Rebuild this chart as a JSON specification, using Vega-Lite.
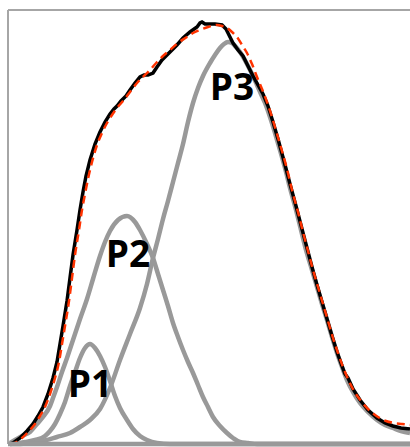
{
  "$schema": "https://vega.github.io/schema/vega-lite/v6.json",
  "width": 402,
  "height": 434,
  "autosize": {"type": "none"},
  "padding": {"left": 8, "top": 10, "right": 0, "bottom": 3},
  "config": {"view": {"stroke": null}},
  "datasets": {
    "p1": [
      {"x": 10, "y": 0}, {"x": 25, "y": 2}, {"x": 35, "y": 4}, {"x": 45, "y": 8}, {"x": 50, "y": 13},
      {"x": 55, "y": 20}, {"x": 60, "y": 30}, {"x": 65, "y": 42}, {"x": 70, "y": 58}, {"x": 75, "y": 72},
      {"x": 80, "y": 86}, {"x": 85, "y": 96}, {"x": 90, "y": 100}, {"x": 95, "y": 96}, {"x": 100, "y": 88},
      {"x": 105, "y": 77}, {"x": 110, "y": 63}, {"x": 115, "y": 48}, {"x": 120, "y": 36}, {"x": 127, "y": 24},
      {"x": 133, "y": 15}, {"x": 140, "y": 8}, {"x": 147, "y": 4}, {"x": 157, "y": 1}, {"x": 170, "y": 0},
      {"x": 410, "y": 0}
    ],
    "p2": [
      {"x": 10, "y": 1}, {"x": 15, "y": 4}, {"x": 22, "y": 8}, {"x": 30, "y": 12}, {"x": 37, "y": 20},
      {"x": 43, "y": 27}, {"x": 50, "y": 38}, {"x": 53, "y": 46}, {"x": 57, "y": 57}, {"x": 62, "y": 72},
      {"x": 67, "y": 86}, {"x": 73, "y": 104}, {"x": 80, "y": 125}, {"x": 87, "y": 145}, {"x": 93, "y": 165},
      {"x": 100, "y": 188}, {"x": 105, "y": 202}, {"x": 110, "y": 213}, {"x": 118, "y": 224}, {"x": 127, "y": 228},
      {"x": 135, "y": 222}, {"x": 140, "y": 214}, {"x": 147, "y": 200}, {"x": 153, "y": 186}, {"x": 158, "y": 170},
      {"x": 163, "y": 154}, {"x": 168, "y": 138}, {"x": 173, "y": 121}, {"x": 178, "y": 107}, {"x": 183, "y": 94},
      {"x": 188, "y": 82}, {"x": 193, "y": 71}, {"x": 198, "y": 59}, {"x": 203, "y": 47}, {"x": 208, "y": 37},
      {"x": 213, "y": 27}, {"x": 220, "y": 18}, {"x": 227, "y": 11}, {"x": 233, "y": 6}, {"x": 240, "y": 2},
      {"x": 248, "y": 1}, {"x": 257, "y": 0}, {"x": 410, "y": 0}
    ],
    "p3": [
      {"x": 10, "y": 0}, {"x": 20, "y": 0}, {"x": 30, "y": 1}, {"x": 43, "y": 3}, {"x": 57, "y": 7},
      {"x": 70, "y": 11}, {"x": 80, "y": 17}, {"x": 90, "y": 24}, {"x": 100, "y": 35}, {"x": 110, "y": 56},
      {"x": 120, "y": 84}, {"x": 130, "y": 110}, {"x": 140, "y": 136}, {"x": 147, "y": 160}, {"x": 153, "y": 186},
      {"x": 158, "y": 205}, {"x": 163, "y": 225}, {"x": 168, "y": 243}, {"x": 173, "y": 262}, {"x": 178, "y": 281},
      {"x": 183, "y": 300}, {"x": 188, "y": 322}, {"x": 193, "y": 341}, {"x": 198, "y": 356}, {"x": 203, "y": 368},
      {"x": 210, "y": 381}, {"x": 215, "y": 389}, {"x": 220, "y": 396}, {"x": 224, "y": 400}, {"x": 228, "y": 402},
      {"x": 232, "y": 401}, {"x": 236, "y": 397}, {"x": 240, "y": 392}, {"x": 247, "y": 380}, {"x": 252, "y": 370},
      {"x": 257, "y": 359}, {"x": 261, "y": 350}, {"x": 265, "y": 341}, {"x": 270, "y": 327}, {"x": 275, "y": 311},
      {"x": 280, "y": 294}, {"x": 285, "y": 276}, {"x": 290, "y": 256}, {"x": 296, "y": 234}, {"x": 301, "y": 214},
      {"x": 306, "y": 194}, {"x": 312, "y": 174}, {"x": 317, "y": 157}, {"x": 322, "y": 140}, {"x": 327, "y": 124},
      {"x": 332, "y": 107}, {"x": 337, "y": 91}, {"x": 342, "y": 77}, {"x": 347, "y": 64}, {"x": 353, "y": 52},
      {"x": 360, "y": 41}, {"x": 368, "y": 32}, {"x": 377, "y": 24}, {"x": 385, "y": 19}, {"x": 393, "y": 16},
      {"x": 401, "y": 13}, {"x": 410, "y": 11}
    ],
    "measured": [
      {"x": 10, "y": 0}, {"x": 13, "y": 1}, {"x": 20, "y": 6}, {"x": 27, "y": 13}, {"x": 33, "y": 20},
      {"x": 38, "y": 28}, {"x": 43, "y": 37}, {"x": 48, "y": 50}, {"x": 53, "y": 66}, {"x": 57, "y": 82},
      {"x": 60, "y": 100}, {"x": 63, "y": 118}, {"x": 67, "y": 143}, {"x": 70, "y": 166}, {"x": 73, "y": 189},
      {"x": 77, "y": 214}, {"x": 80, "y": 234}, {"x": 83, "y": 252}, {"x": 86, "y": 268}, {"x": 90, "y": 284},
      {"x": 95, "y": 300}, {"x": 100, "y": 312}, {"x": 105, "y": 322}, {"x": 110, "y": 330}, {"x": 114, "y": 335},
      {"x": 117, "y": 338}, {"x": 121, "y": 343}, {"x": 126, "y": 348}, {"x": 130, "y": 354}, {"x": 135, "y": 361},
      {"x": 140, "y": 367}, {"x": 144, "y": 369}, {"x": 148, "y": 369}, {"x": 153, "y": 371}, {"x": 157, "y": 377},
      {"x": 162, "y": 384}, {"x": 170, "y": 392}, {"x": 177, "y": 399}, {"x": 183, "y": 406}, {"x": 190, "y": 412},
      {"x": 197, "y": 417}, {"x": 200, "y": 421}, {"x": 202, "y": 422}, {"x": 205, "y": 420}, {"x": 210, "y": 420},
      {"x": 215, "y": 420}, {"x": 222, "y": 419}, {"x": 226, "y": 415}, {"x": 228, "y": 411}, {"x": 233, "y": 401},
      {"x": 238, "y": 394}, {"x": 243, "y": 388}, {"x": 248, "y": 378}, {"x": 253, "y": 368}, {"x": 258, "y": 359},
      {"x": 263, "y": 350}, {"x": 268, "y": 338}, {"x": 273, "y": 322}, {"x": 278, "y": 305}, {"x": 284, "y": 283},
      {"x": 290, "y": 260}, {"x": 296, "y": 238}, {"x": 302, "y": 215}, {"x": 307, "y": 196}, {"x": 312, "y": 177},
      {"x": 317, "y": 159}, {"x": 322, "y": 142}, {"x": 327, "y": 125}, {"x": 332, "y": 108}, {"x": 337, "y": 92},
      {"x": 342, "y": 78}, {"x": 345, "y": 70}, {"x": 348, "y": 66}, {"x": 353, "y": 55}, {"x": 360, "y": 44},
      {"x": 368, "y": 34}, {"x": 377, "y": 26}, {"x": 385, "y": 21}, {"x": 393, "y": 18}, {"x": 401, "y": 16},
      {"x": 410, "y": 15}
    ],
    "fit": [
      {"x": 10, "y": 0}, {"x": 15, "y": 1}, {"x": 22, "y": 6}, {"x": 29, "y": 13}, {"x": 35, "y": 20},
      {"x": 40, "y": 28}, {"x": 45, "y": 37}, {"x": 50, "y": 50}, {"x": 55, "y": 66}, {"x": 59, "y": 82},
      {"x": 62, "y": 100}, {"x": 65, "y": 118}, {"x": 69, "y": 143}, {"x": 72, "y": 166}, {"x": 75, "y": 189},
      {"x": 79, "y": 214}, {"x": 82, "y": 234}, {"x": 85, "y": 250}, {"x": 88, "y": 265}, {"x": 92, "y": 282},
      {"x": 97, "y": 299}, {"x": 102, "y": 311}, {"x": 107, "y": 321}, {"x": 112, "y": 329}, {"x": 117, "y": 336},
      {"x": 123, "y": 343}, {"x": 130, "y": 352}, {"x": 137, "y": 361}, {"x": 143, "y": 367}, {"x": 150, "y": 374},
      {"x": 157, "y": 382}, {"x": 163, "y": 388}, {"x": 170, "y": 394}, {"x": 178, "y": 401}, {"x": 187, "y": 407},
      {"x": 193, "y": 411}, {"x": 200, "y": 414}, {"x": 208, "y": 417}, {"x": 217, "y": 419}, {"x": 222, "y": 418},
      {"x": 227, "y": 416}, {"x": 232, "y": 412}, {"x": 237, "y": 407}, {"x": 242, "y": 399}, {"x": 247, "y": 391},
      {"x": 252, "y": 380}, {"x": 257, "y": 367}, {"x": 262, "y": 355}, {"x": 267, "y": 342}, {"x": 272, "y": 327},
      {"x": 277, "y": 310}, {"x": 282, "y": 293}, {"x": 287, "y": 275}, {"x": 292, "y": 254}, {"x": 298, "y": 232},
      {"x": 303, "y": 212}, {"x": 308, "y": 193}, {"x": 313, "y": 174}, {"x": 318, "y": 157}, {"x": 323, "y": 140},
      {"x": 328, "y": 123}, {"x": 333, "y": 106}, {"x": 338, "y": 91}, {"x": 343, "y": 77}, {"x": 348, "y": 65},
      {"x": 354, "y": 53}, {"x": 361, "y": 43}, {"x": 369, "y": 34}, {"x": 378, "y": 27}, {"x": 386, "y": 23},
      {"x": 394, "y": 21}, {"x": 402, "y": 20}, {"x": 410, "y": 19}
    ],
    "labels": [
      {"label": "P1", "x": 90, "y": 47},
      {"label": "P2", "x": 128, "y": 177},
      {"label": "P3", "x": 232, "y": 344}
    ]
  },
  "layer": [
    {
      "data": {"name": "p1"},
      "mark": {"type": "line", "color": "#999999", "strokeWidth": 4.5, "interpolate": "monotone"},
      "encoding": {
        "x": {"field": "x", "type": "quantitative", "scale": {"domain": [8, 410], "nice": false, "zero": false}, "axis": null},
        "y": {"field": "y", "type": "quantitative", "scale": {"domain": [0, 434], "nice": false}, "axis": null}
      }
    },
    {
      "data": {"name": "p2"},
      "mark": {"type": "line", "color": "#999999", "strokeWidth": 4.5, "interpolate": "monotone"},
      "encoding": {
        "x": {"field": "x", "type": "quantitative"},
        "y": {"field": "y", "type": "quantitative"}
      }
    },
    {
      "data": {"name": "p3"},
      "mark": {"type": "line", "color": "#999999", "strokeWidth": 4.5, "interpolate": "monotone"},
      "encoding": {
        "x": {"field": "x", "type": "quantitative"},
        "y": {"field": "y", "type": "quantitative"}
      }
    },
    {
      "data": {"name": "measured"},
      "mark": {"type": "line", "color": "#000000", "strokeWidth": 3.5},
      "encoding": {
        "x": {"field": "x", "type": "quantitative"},
        "y": {"field": "y", "type": "quantitative"}
      }
    },
    {
      "data": {"name": "fit"},
      "mark": {"type": "line", "color": "#ff3300", "strokeWidth": 2.5, "strokeDash": [8, 5], "interpolate": "monotone"},
      "encoding": {
        "x": {"field": "x", "type": "quantitative"},
        "y": {"field": "y", "type": "quantitative"}
      }
    },
    {
      "data": {"values": [{}]},
      "mark": {"type": "rule", "color": "#a6a6a6", "strokeWidth": 2},
      "encoding": {"y": {"datum": 434}}
    },
    {
      "data": {"values": [{}]},
      "mark": {"type": "rule", "color": "#a6a6a6", "strokeWidth": 2},
      "encoding": {"x": {"datum": 8}}
    },
    {
      "data": {"values": [{}]},
      "mark": {"type": "rule", "color": "#999999", "strokeWidth": 4.5},
      "encoding": {"y": {"datum": 0}}
    },
    {
      "data": {"name": "labels"},
      "mark": {"type": "text", "font": "Open Sans", "fontWeight": "bold", "fontSize": 37, "align": "center", "baseline": "alphabetic", "color": "#000000"},
      "encoding": {
        "x": {"field": "x", "type": "quantitative"},
        "y": {"field": "y", "type": "quantitative"},
        "text": {"field": "label"}
      }
    }
  ]
}
